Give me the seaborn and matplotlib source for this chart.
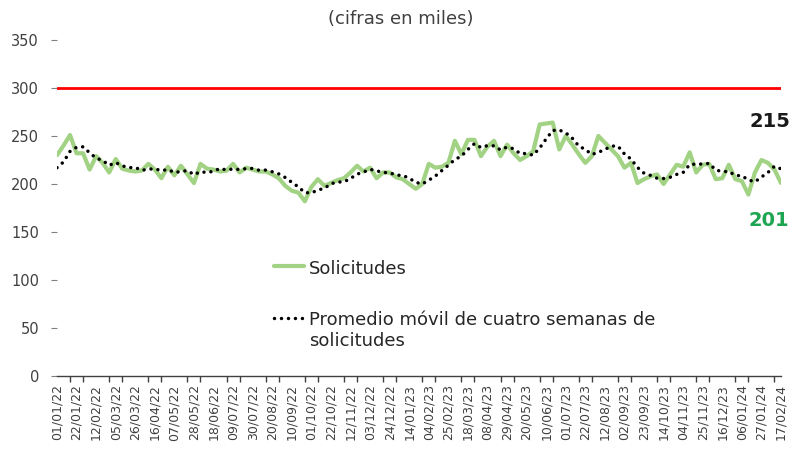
import pandas as pd
import numpy as np
import seaborn as sns
import matplotlib.pyplot as plt

# weekly initial claims (thousands), weeks ending 01/01/22 .. 17/02/24
claims = [230, 240, 251, 232, 232, 215, 229, 222, 212, 226,
          216, 214, 213, 214, 221, 215, 206, 218, 209, 219,
          210, 201, 221, 216, 215, 213, 214, 221, 212, 217,
          215, 213, 213, 210, 206, 198, 193, 191, 182, 197,
          205, 198, 201, 204, 206, 212, 219, 213, 217, 206,
          212, 212, 207, 205, 200, 195, 200, 221, 217, 218,
          222, 245, 231, 246, 246, 229, 239, 245, 229, 241,
          232, 225, 229, 234, 262, 263, 264, 236, 250, 241,
          231, 222, 229, 250, 243, 236, 229, 217, 222, 201,
          205, 208, 210, 200, 210, 220, 218, 233, 212, 220,
          221, 205, 206, 220, 205, 203, 189, 212, 225, 222,
          215, 201]
# last three weeks of Dec 2021, needed for the first moving averages
prior_weeks = [216, 207, 215]

threshold = 300
subtitle = "(cifras en miles)"
label_claims = "Solicitudes"
label_ma = "Promedio móvil de cuatro semanas de\nsolicitudes"
last_ma_text = "215"
last_claims_text = "201"


def build_frame():
    full = pd.Series(prior_weeks + claims, dtype=float)
    ma = full.rolling(4).mean().iloc[len(prior_weeks):].to_numpy()
    weeks = pd.date_range("2022-01-01", periods=len(claims), freq="7D")
    return pd.DataFrame({"semana": weeks, "solicitudes": claims, "promedio": ma})


def draw_chart(df):
    sns.set_theme(style="white")
    plt.rcParams["font.family"] = ["DejaVu Sans"]

    fig = plt.figure(figsize=(8.02, 4.71), dpi=100)
    ax = fig.add_axes([57 / 802, 95 / 471, 724 / 802, 336 / 471])

    ax.axhline(threshold, color="#ff0000", lw=2, zorder=1)
    sns.lineplot(data=df, x="semana", y="solicitudes", ax=ax, color="#a2d283",
                 lw=3, label=label_claims, zorder=2)
    sns.lineplot(data=df, x="semana", y="promedio", ax=ax, color="black",
                 lw=2.5, linestyle=(0, (0.01, 2.0)), dash_capstyle="round",
                 label=label_ma, zorder=3)

    weeks = df["semana"]
    ax.set_xlim(weeks.iloc[0], weeks.iloc[-1])
    ax.set_ylim(0, 350)
    ax.set_yticks(np.arange(0, 351, 50))
    ax.set_xticks(weeks[::3])
    ax.set_xticklabels([d.strftime("%d/%m/%y") for d in weeks[::3]],
                       rotation=90, fontsize=9, color="#404040")
    ax.set_xticks(weeks[::2], minor=True)
    ax.tick_params(axis="x", which="major", length=0, pad=6)
    ax.tick_params(axis="x", which="minor", length=4, width=1, color="#404040",
                   bottom=True)
    ax.tick_params(axis="y", length=4, width=0.8, color="#808080", pad=9,
                   labelsize=10.5, labelcolor="#404040", left=True)
    ax.set_xlabel("")
    ax.set_ylabel("")

    for side in ["top", "right", "left"]:
        ax.spines[side].set_visible(False)
    ax.spines["bottom"].set_color("#404040")
    ax.spines["bottom"].set_linewidth(1)

    leg = ax.legend(loc="upper left", bbox_to_anchor=(274 / 802, 1 - 260 / 471),
                    bbox_transform=fig.transFigure, frameon=False, fontsize=13,
                    handlelength=1.65, handletextpad=0.3, labelspacing=1.85,
                    borderpad=0, borderaxespad=0, labelcolor="#262626")
    # keep the dotted handle next to the first line of its two-line label
    for column in leg._legend_handle_box.get_children():
        for row in column.get_children():
            row.align = "top"

    last = weeks.iloc[-1]
    ax.annotate(last_ma_text, xy=(last, df["promedio"].iloc[-1]),
                xytext=(-8, 34), textcoords="offset points", ha="center",
                va="center", fontsize=14, fontweight="bold", color="#1a1a1a")
    ax.annotate(last_claims_text, xy=(last, df["solicitudes"].iloc[-1]),
                xytext=(-9, -27), textcoords="offset points", ha="center",
                va="center", fontsize=14, fontweight="bold", color="#1ea552")

    fig.text(0.5, 1 - 19 / 471, subtitle, ha="center", va="center",
             fontsize=13, color="#404040")

    fig.savefig("out.png", dpi=100)


if __name__ == "__main__":
    draw_chart(build_frame())
